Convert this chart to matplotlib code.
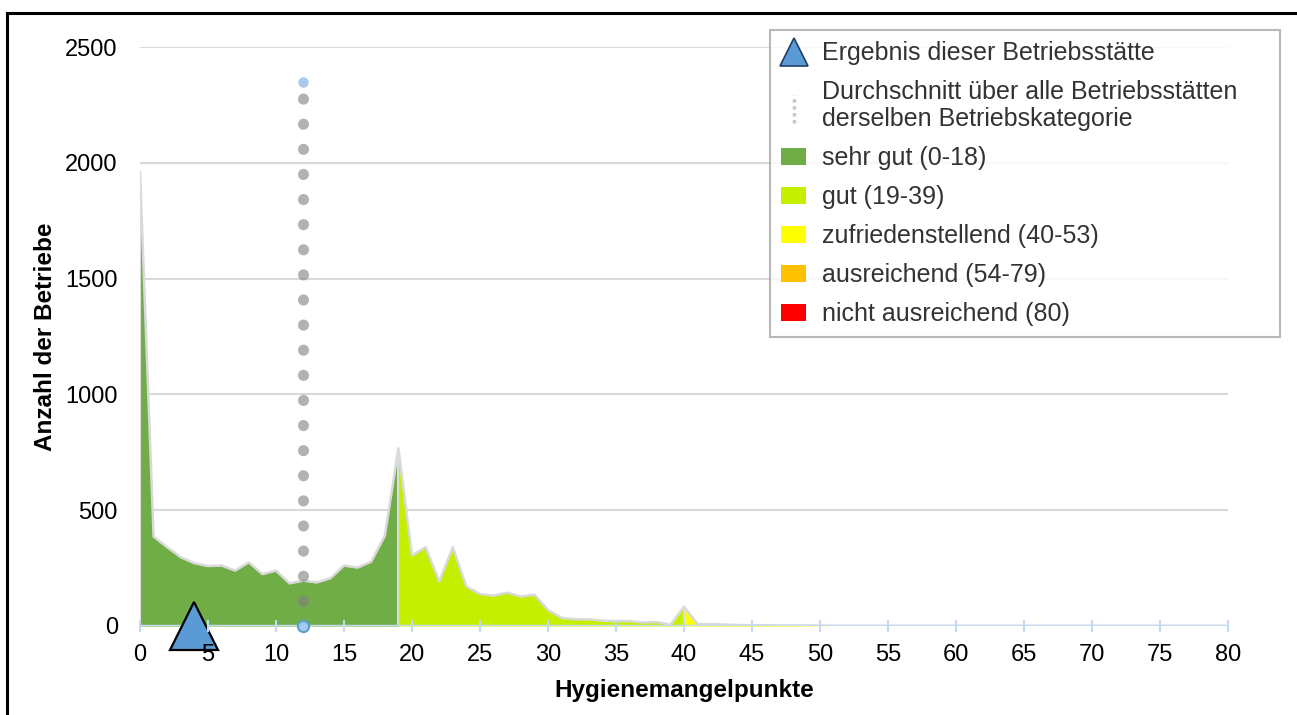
import matplotlib
matplotlib.use('Agg')
import matplotlib.pyplot as plt
from matplotlib.lines import Line2D
from matplotlib.patches import Patch
from matplotlib.legend_handler import HandlerBase

plt.rcParams['font.family'] = ['Liberation Sans', 'DejaVu Sans']

# Hygienemangelpunkte und Anzahl der Betriebe
punkte = list(range(0, 81))
anzahl = [1960, 386, 340, 297, 271, 259, 261, 239, 275, 224,
          239, 184, 196, 188, 206, 261, 252, 278, 389, 767,
          304, 340, 192, 340, 170, 138, 131, 144, 127, 135,
          69, 35, 29, 29, 23, 21, 21, 15, 17, 5,
          83, 8, 8, 6, 4, 3, 3, 2, 2, 2,
          1, 0, 0, 0, 0, 0, 0, 0, 0, 0,
          0, 0, 0, 0, 0, 0, 0, 0, 0, 0,
          0, 0, 0, 0, 0, 0, 0, 0, 0, 0,
          0]

zonen_namen = ['sehr gut (0-18)', 'gut (19-39)', 'zufriedenstellend (40-53)',
               'ausreichend (54-79)', 'nicht ausreichend (80)']
zonen_start = [0, 19, 40, 54, 80]
zonen_farben = ['#70ad47', '#c4f000', '#ffff00', '#ffc000', '#ff0000']

ergebnis = 4
durchschnitt = 12
durchschnitt_linie_oben = 2350

x_ticks = list(range(0, 81, 5))
y_ticks = [0, 500, 1000, 1500, 2000, 2500]


class VertikalePunkte(HandlerBase):
    # senkrechte gepunktete Linie als Legendensymbol
    def create_artists(self, legend, orig_handle, xdescent, ydescent,
                       width, height, fontsize, trans):
        x = width / 2 - xdescent
        linie = Line2D([x, x], [-ydescent - height * 0.45, -ydescent + height * 1.15],
                       color='#c8c8c8', lw=2.5, linestyle=(0, (1, 1)), transform=trans)
        return [linie]


fig = plt.figure(figsize=(12.97, 7.15), dpi=100)
ax = fig.add_axes([140 / 1297, 89 / 715, 1088 / 1297, 579 / 715])

# Gitterlinien hinter den Flaechen
for y in y_ticks[1:]:
    ax.axhline(y, color='#d9d9d9', lw=1.5, zorder=0.5)

for i, start in enumerate(zonen_start):
    ende = zonen_start[i + 1] if i + 1 < len(zonen_start) else punkte[-1]
    maske = [start <= p <= ende for p in punkte]
    ax.fill_between(punkte, anzahl, where=maske, color=zonen_farben[i], lw=0, zorder=2)

ax.plot(punkte, anzahl, color='#d9d9d9', lw=1.8, zorder=2.05)
ax.vlines(zonen_start, 0, [anzahl[s] for s in zonen_start], color='#dcdcdc', lw=1.5, zorder=2.05)

# x-Achse
ax.axhline(0, color='#c5d9f1', lw=2.5, zorder=2.1)

# Durchschnitt
ax.plot([durchschnitt, durchschnitt], [0, durchschnitt_linie_oben], color='#7f7f7f', alpha=0.6,
        lw=8, linestyle=(0, (0.01, 2.25)), dash_capstyle='round', zorder=2.1)
ax.plot(durchschnitt, durchschnitt_linie_oben, marker='o', ms=6.5, color='#a9c9ec',
        ls='none', zorder=2.3)
ax.plot(durchschnitt, 0, marker='o', ms=8, mfc='#a9c9ec', mec='#5b9bd5', mew=1.5,
        ls='none', clip_on=False, zorder=2.3)

# Ergebnis dieser Betriebsstaette
ax.plot(ergebnis, 0, marker='^', ms=34.5, mfc='#5b9bd5', mec='black', mew=1.6,
        ls='none', clip_on=False, zorder=2.2)

ax.set_xlim(0, 80)
ax.set_ylim(0, 2500)
ax.set_xticks(x_ticks)
ax.set_yticks(y_ticks)
ax.set_axisbelow(False)
for s in ax.spines.values():
    s.set_visible(False)
ax.tick_params(axis='y', length=0, pad=16, labelsize=17)
ax.tick_params(axis='x', direction='inout', length=8, width=1.5, color='#c5d9f1',
               pad=9, labelsize=17)
ax.set_xlabel('Hygienemangelpunkte', fontsize=17.5, fontweight='bold', labelpad=9)
ax.set_ylabel('Anzahl der Betriebe', fontsize=17.5, fontweight='bold', labelpad=6)

handles = [Line2D([], [], marker='^', ms=20, mfc='#5b9bd5', mec='#1f3f66', mew=1.2, ls='none'),
           Line2D([], [])]
labels = ['Ergebnis dieser Betriebsstätte',
          'Durchschnitt über alle Betriebsstätten\nderselben Betriebskategorie']
for name, farbe in zip(zonen_namen, zonen_farben):
    handles.append(Patch(facecolor=farbe, edgecolor='none'))
    labels.append(name)

leg = fig.legend(handles, labels, loc='upper left', mode='expand',
                 bbox_to_anchor=(770 / 1297, 1 - 343 / 715, 510 / 1297, 313 / 715),
                 bbox_transform=fig.transFigure,
                 borderaxespad=0, fontsize=18, frameon=True, fancybox=False,
                 handlelength=1.0, handleheight=0.7, handletextpad=0.65,
                 labelspacing=0.6, borderpad=0.45,
                 handler_map={handles[1]: VertikalePunkte()})
leg.get_frame().set_edgecolor('#a6a6a6')
leg.get_frame().set_linewidth(1.5)
for t in leg.get_texts():
    t.set_color('#333333')
    t.set_linespacing(1.15)

# Rahmen oben und links
fig.add_artist(Line2D([7 / 1297, 1], [1 - 13 / 715, 1 - 13 / 715], transform=fig.transFigure,
                      color='black', lw=2.2))
fig.add_artist(Line2D([7 / 1297, 7 / 1297], [0, 1 - 13 / 715], transform=fig.transFigure,
                      color='black', lw=2.2))

fig.savefig('out.png', dpi=100)
